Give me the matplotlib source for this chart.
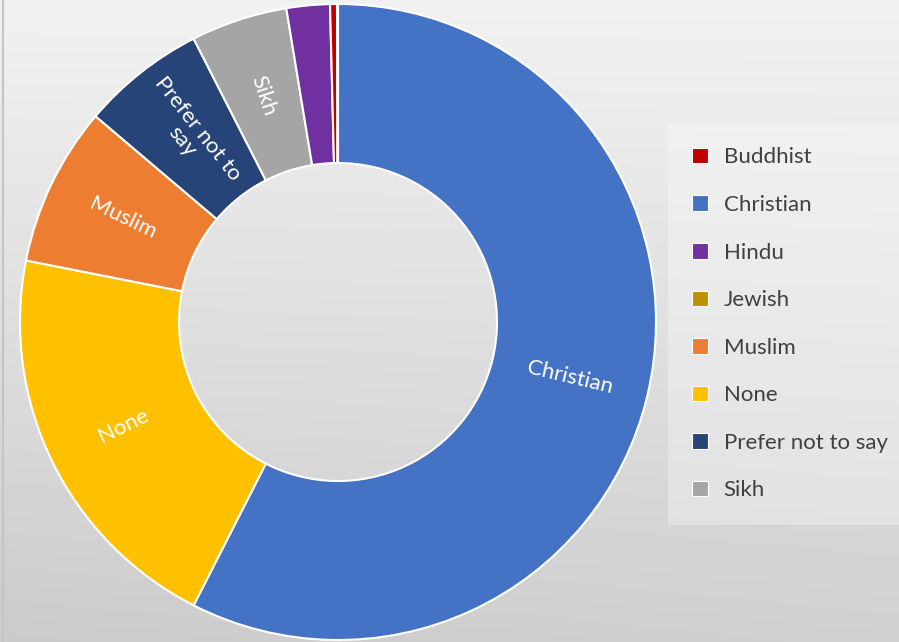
import numpy as np
import matplotlib.pyplot as plt
from matplotlib.patches import Patch

# religion breakdown (percent)
religions = ["Buddhist", "Christian", "Hindu", "Jewish", "Muslim", "None",
             "Prefer not to say", "Sikh"]
shares = [0.35, 57.5, 2.2, 0.05, 8.1, 20.6, 6.3, 4.9]
colors = ["#C00000", "#4472C4", "#7030A0", "#BF9000", "#ED7D31", "#FFC000",
          "#264478", "#A5A5A5"]
ring_labels = {"Christian": "Christian", "None": "None", "Muslim": "Muslim",
               "Prefer not to say": "Prefer not to\nsay", "Sikh": "Sikh"}

plt.rcParams['font.family'] = ['Lato', 'DejaVu Sans']

W, H = 899, 642
fig = plt.figure(figsize=(W / 100, H / 100), dpi=100)

# grey gradient background
bg = fig.add_axes([0, 0, 1, 1], zorder=-10)
yy, xx = np.mgrid[0:1:200j, 0:1:200j]
shade = 0.945 - 0.13 * yy - 0.02 * (1 - xx) * yy
bg.imshow(shade, cmap='gray', vmin=0, vmax=1, aspect='auto', extent=[0, 1, 1, 0])
bg.axvline(0.003, color='#c4c4c4', lw=1.5)
bg.set_xlim(0, 1)
bg.set_ylim(1, 0)
bg.axis('off')

# donut, largest first, clockwise from the top
order = np.argsort(shares)[::-1]
cx, cy, r = 338, 320, 318
ax = fig.add_axes([(cx - r) / W, (cy - r) / H, 2 * r / W, 2 * r / H])
wedges, _ = ax.pie([shares[i] for i in order], colors=[colors[i] for i in order],
                   startangle=90, counterclock=False, radius=1,
                   wedgeprops=dict(width=0.5, edgecolor='white', linewidth=1.5))
ax.set_xlim(-1, 1)
ax.set_ylim(-1, 1)
ax.set_aspect('equal')

for w, i in zip(wedges, order):
    name = religions[i]
    if name not in ring_labels:
        continue
    mid = (w.theta1 + w.theta2) / 2
    rad = np.deg2rad(mid)
    rot = (mid + 90) % 180 - 90
    ax.text(0.75 * np.cos(rad), 0.75 * np.sin(rad), ring_labels[name],
            rotation=rot, rotation_mode='anchor', ha='center', va='center',
            color='white', fontsize=16, linespacing=1.0)

handles = [Patch(facecolor=c, edgecolor='white', linewidth=0.8) for c in colors]
leg = fig.legend(handles, religions, loc='upper left',
                 bbox_to_anchor=(668 / W, 1 - 123 / H), frameon=True,
                 fontsize=16, handlelength=0.7, handleheight=0.7,
                 handletextpad=0.7, labelspacing=1.24, borderpad=1.1,
                 borderaxespad=0)
leg.get_frame().set_facecolor('white')
leg.get_frame().set_alpha(0.3)
leg.get_frame().set_edgecolor('none')
leg.get_frame().set_boxstyle('square', pad=0)
for t in leg.get_texts():
    t.set_color('#404040')

fig.savefig('out.png', dpi=100)
